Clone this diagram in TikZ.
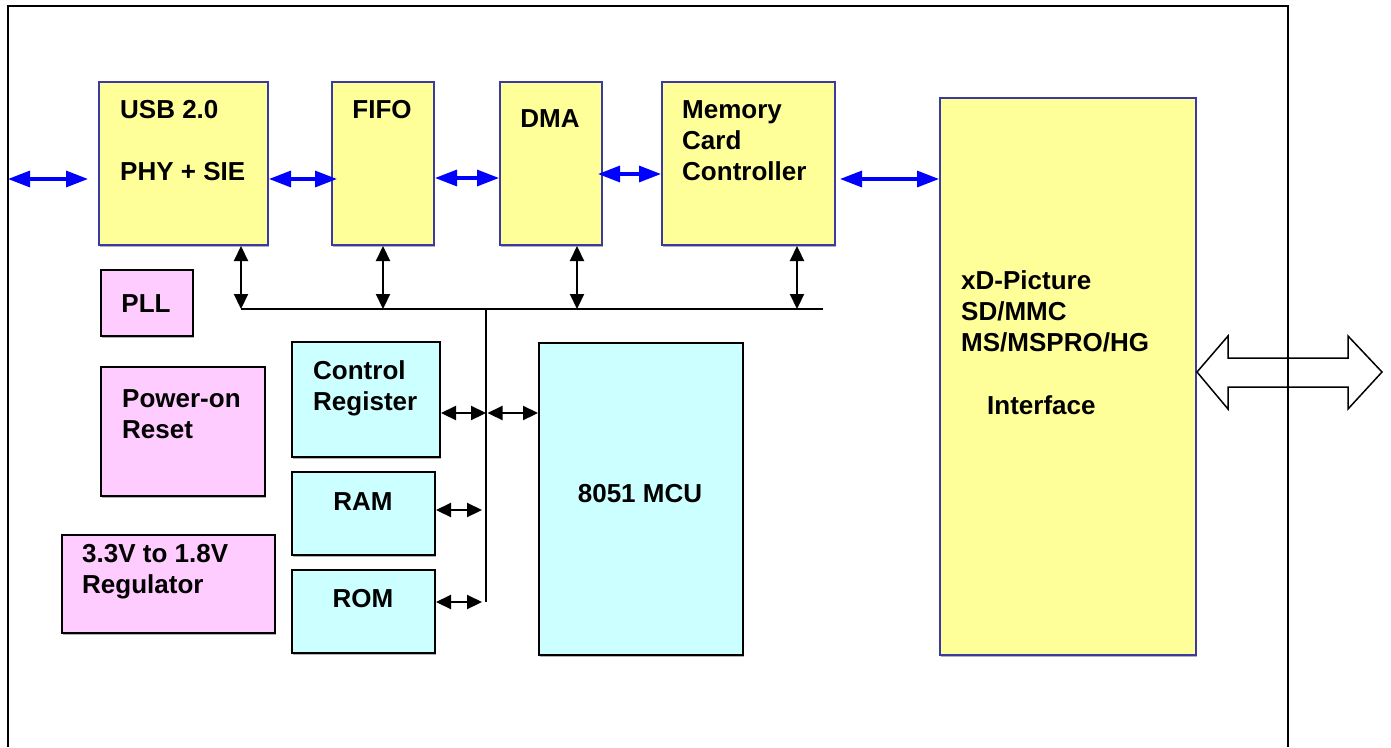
\documentclass[tikz,border=0pt]{standalone}
\usepackage{fontspec}
\setmainfont{Liberation Sans}
\usetikzlibrary{arrows.meta,shadows}
\definecolor{chipyellow}{HTML}{FFFF99}
\definecolor{chipcyan}{HTML}{CCFFFF}
\definecolor{chippink}{HTML}{FFCCFF}
\definecolor{chipedge}{HTML}{3A3AA0}
\tikzset{blk/.style={draw, line width=2pt, inner sep=0pt, anchor=north west,
           drop shadow={shadow xshift=1pt, shadow yshift=-2pt, fill=black!30, opacity=1}},
         yblock/.style={blk, fill=chipyellow, draw=chipedge},
         cblock/.style={blk, fill=chipcyan, draw=black},
         pblock/.style={blk, fill=chippink, draw=black},
         lbl/.style={inner sep=0pt, align=left, font=\fontsize{26}{31}\selectfont\bfseries},
         busarrow/.style={line width=2.2pt, {Triangle[length=15pt,width=14pt]}-{Triangle[length=15pt,width=14pt]}},
         dataarrow/.style={line width=3.2pt, blue, {Triangle[length=22pt,width=16pt]}-{Triangle[length=22pt,width=16pt]}}}

\begin{document}
\begin{tikzpicture}[x=1pt, y=-1pt]
  \useasboundingbox (0,0) rectangle (1391,747);
  \draw[line width=2pt] (7.5,747) -- (7.5,6) -- (1288,6) -- (1288,747);

  % blocks
  \node[yblock, minimum width=169, minimum height=163] (usb) at (98,81) {};
  \node[yblock, minimum width=102, minimum height=163] (fifo) at (331,81) {};
  \node[yblock, minimum width=102, minimum height=163] (dma) at (499,81) {};
  \node[yblock, minimum width=173, minimum height=163] (mcc) at (661,81) {};
  \node[yblock, minimum width=256, minimum height=557] (xd) at (939,97) {};
  \node[pblock, minimum width=92, minimum height=66] (pll) at (100,269) {};
  \node[pblock, minimum width=164, minimum height=129] (por) at (100,366) {};
  \node[pblock, minimum width=213, minimum height=98] (reg) at (61,534) {};
  \node[cblock, minimum width=148, minimum height=115] (creg) at (291,341) {};
  \node[cblock, minimum width=143, minimum height=83] (ram) at (291,471) {};
  \node[cblock, minimum width=143, minimum height=83] (rom) at (291,569) {};
  \node[cblock, minimum width=204, minimum height=312] (mcu) at (538,342) {};

  % labels
  \node[lbl, anchor=north west] (usbtxt) at (120,100) {USB 2.0\\[31pt]PHY + SIE};
  \node[lbl, anchor=north] (fifotxt) at (382,100) {FIFO};
  \node[lbl, anchor=north] (dmatxt) at (550,109) {DMA};
  \node[lbl, anchor=north west] (mcctxt) at (682,100) {Memory\\Card\\Controller};
  \node[lbl, anchor=north west] (xdtxt) at (961,270) {xD-Picture\\SD/MMC\\MS/MSPRO/HG\\[32pt]\hspace*{26pt}Interface};
  \node[lbl, anchor=north] (plltxt) at (146,294) {PLL};
  \node[lbl, anchor=north west] (portxt) at (122,389) {Power-on\\Reset};
  \node[lbl, anchor=north west] (regtxt) at (82,544) {3.3V to 1.8V\\Regulator};
  \node[lbl, anchor=north west] (cregtxt) at (313,360) {Control\\Register};
  \node[lbl, anchor=north] (ramtxt) at (363,492) {RAM};
  \node[lbl, anchor=north] (romtxt) at (363,589) {ROM};
  \node[lbl, anchor=north] (mcutxt) at (640,484) {8051 MCU};

  % internal bus
  \coordinate (busL) at (241,309);
  \coordinate (busR) at (823,309);
  \coordinate (busT) at (486,309);
  \coordinate (busB) at (486,602);
  \draw[line width=2.2pt] (busL) -- (busR);
  \draw[line width=2.2pt] (busT) -- (busB);

  \draw[busarrow] (usb.south -| busL) -- (busL);
  \draw[busarrow] (fifo.south) -- (fifo.south |- busL);
  \draw[busarrow] ([xshift=26pt]dma.south) -- ([xshift=26pt]dma.south |- busL);
  \draw[busarrow] (mcc.south -| 797,0) -- (797,0 |- busR);
  \draw[busarrow] (creg.east |- 0,413) -- (busT |- 0,413);
  \draw[busarrow] ([xshift=1.5pt]busT |- 0,413) -- (mcu.west |- 0,413);
  \draw[busarrow] (ram.east |- 0,510) -- ([xshift=-4pt]busT |- 0,510);
  \draw[busarrow] (rom.east |- busB) -- ([xshift=-4pt]busB);

  % data path
  \coordinate (usbin) at (8,179);
  \draw[dataarrow] (usbin) -- ([xshift=-10pt]usb.west |- usbin);
  \draw[dataarrow] (usb.east |- usbin) -- ([xshift=6pt]fifo.west |- usbin);
  \draw[dataarrow] (fifo.east |- 0,178) -- (dma.west |- 0,178);
  \draw[dataarrow] ([xshift=-5pt]dma.east |- 0,174) -- (mcc.west |- 0,174);
  \draw[dataarrow] ([xshift=4pt]mcc.east |- usbin) -- (xd.west |- usbin);

  % card side
  \draw[line width=1.5pt] (xd.east |- 0,372) -- (1228,336) -- (1228,358) -- (1348,358)
    -- (1348,336) -- (1382,372) -- (1348,409) -- (1348,387) -- (1228,387) -- (1228,409) -- cycle;
\end{tikzpicture}
\end{document}
